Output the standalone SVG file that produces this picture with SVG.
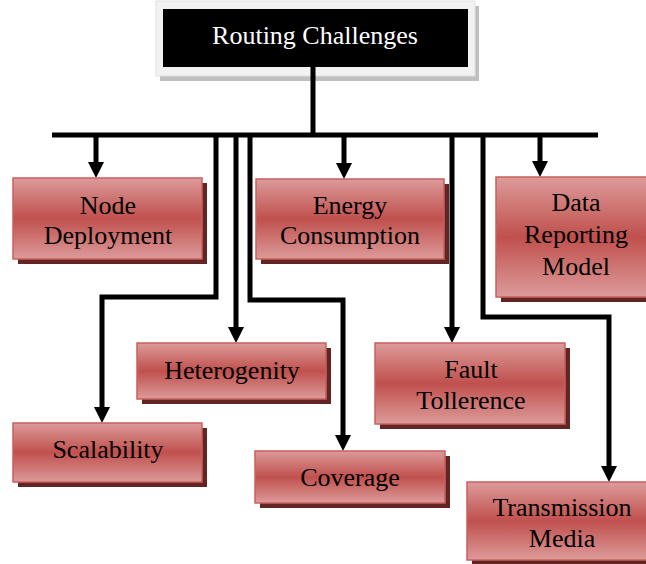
<svg xmlns="http://www.w3.org/2000/svg" width="646" height="564" viewBox="0 0 646 564">
<defs>
<linearGradient id="rg" x1="0" y1="0" x2="0" y2="1">
<stop offset="0" stop-color="#dc9b9a"/>
<stop offset="0.5" stop-color="#c0504d"/>
<stop offset="1" stop-color="#dc9b9a"/>
</linearGradient>
<marker id="ah" markerUnits="userSpaceOnUse" markerWidth="16" markerHeight="16" viewBox="0 0 16 16" refX="1" refY="8" orient="auto">
<path d="M0,0 L16,8 L0,16 z" fill="#000"/>
</marker>
</defs>
<style>
.sh{fill:#632523}
.bx{fill:url(#rg);stroke:#c9605d;stroke-width:1.5}
.t{font-family:"Liberation Serif","Times New Roman",serif;font-size:26px;fill:#000;text-anchor:middle}
.c{fill:none;stroke:#000;stroke-width:5;stroke-linejoin:miter}
</style>
<rect width="646" height="564" fill="#fff"/>
<g id="title">
<rect x="160" y="6" width="319" height="75" fill="#bfbfbf"/>
<rect x="156" y="1" width="319" height="75" fill="#f2f2f2" stroke="#e0e0e0" stroke-width="1"/>
<rect x="163" y="9" width="305" height="58" fill="#000"/>
<text x="315" y="44" class="t" fill="#fff" style="fill:#fff">Routing Challenges</text>
</g>
<g id="connectors">
<path class="c" d="M313,67 V135" stroke-width="6"/>
<path class="c" d="M52,135 H598"/>
<path class="c" d="M96,135 V163" marker-end="url(#ah)"/>
<path class="c" d="M216,135 V297 H102 V408" marker-end="url(#ah)"/>
<path class="c" d="M236,135 V328" marker-end="url(#ah)"/>
<path class="c" d="M250,135 V300 H343 V436" marker-end="url(#ah)"/>
<path class="c" d="M344,135 V164" marker-end="url(#ah)"/>
<path class="c" d="M452,135 V328" marker-end="url(#ah)"/>
<path class="c" d="M483,135 V317 H609 V467" marker-end="url(#ah)"/>
<path class="c" d="M540,135 V162" marker-end="url(#ah)"/>
</g>
<g id="node-deployment">
<rect class="sh" x="18" y="183" width="189" height="81"/>
<rect class="bx" x="13" y="178" width="189" height="81"/>
<text class="t" x="108" y="214">Node</text>
<text class="t" x="108" y="244">Deployment</text>
</g>
<g id="energy-consumption">
<rect class="sh" x="261" y="184" width="188" height="80"/>
<rect class="bx" x="256" y="179" width="188" height="80"/>
<text class="t" x="350" y="214">Energy</text>
<text class="t" x="350" y="244">Consumption</text>
</g>
<g id="data-reporting-model">
<rect class="sh" x="501" y="182" width="160" height="120"/>
<rect class="bx" x="496" y="177" width="160" height="120"/>
<text class="t" x="576" y="211">Data</text>
<text class="t" x="576" y="243">Reporting</text>
<text class="t" x="576" y="275">Model</text>
</g>
<g id="heterogenity">
<rect class="sh" x="142" y="348" width="189" height="56"/>
<rect class="bx" x="137" y="343" width="189" height="56"/>
<text class="t" x="232" y="379">Heterogenity</text>
</g>
<g id="scalability">
<rect class="sh" x="18" y="428" width="189" height="59"/>
<rect class="bx" x="13" y="423" width="189" height="59"/>
<text class="t" x="108" y="458">Scalability</text>
</g>
<g id="coverage">
<rect class="sh" x="260" y="456" width="190" height="52"/>
<rect class="bx" x="255" y="451" width="190" height="52"/>
<text class="t" x="350" y="486">Coverage</text>
</g>
<g id="fault-tollerence">
<rect class="sh" x="380" y="348" width="190" height="81"/>
<rect class="bx" x="375" y="343" width="190" height="81"/>
<text class="t" x="471" y="378">Fault</text>
<text class="t" x="471" y="409">Tollerence</text>
</g>
<g id="transmission-media">
<rect class="sh" x="472" y="487" width="190" height="78"/>
<rect class="bx" x="467" y="482" width="190" height="78"/>
<text class="t" x="562" y="516">Transmission</text>
<text class="t" x="562" y="547">Media</text>
</g>
</svg>
